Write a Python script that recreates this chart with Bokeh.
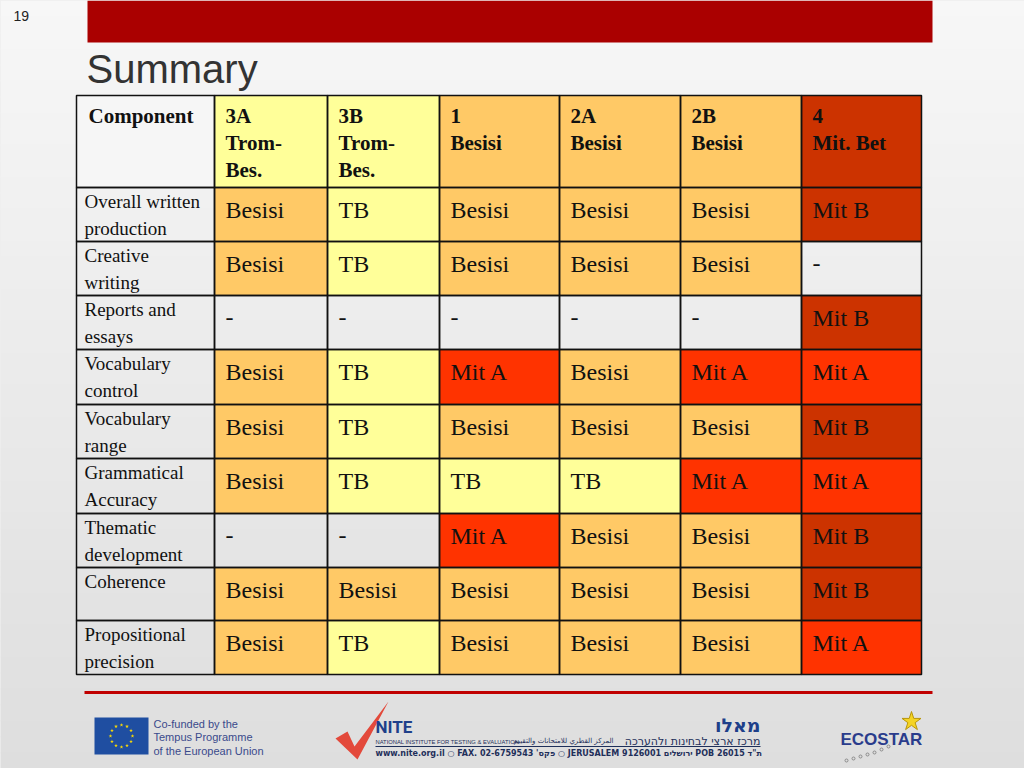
from bokeh.plotting import figure
from bokeh.models import Range1d
from bokeh.core.properties import value
from bokeh.embed import file_html
from bokeh.resources import INLINE
import math

# ---------------- data ----------------
slide_number = "19"
title = "Summary"
header_label = "Component"
columns = [["3A", "Trom-", "Bes."], ["3B", "Trom-", "Bes."], ["1", "Besisi"],
           ["2A", "Besisi"], ["2B", "Besisi"], ["4", "Mit. Bet"]]
column_level = ["TB", "TB", "Besisi", "Besisi", "Besisi", "Mit B"]
components = [["Overall written", "production"], ["Creative", "writing"],
              ["Reports and", "essays"], ["Vocabulary", "control"],
              ["Vocabulary", "range"], ["Grammatical", "Accuracy"],
              ["Thematic", "development"], ["Coherence"],
              ["Propositional", "precision"]]
results = [
    ["Besisi", "TB", "Besisi", "Besisi", "Besisi", "Mit B"],
    ["Besisi", "TB", "Besisi", "Besisi", "Besisi", "-"],
    ["-", "-", "-", "-", "-", "Mit B"],
    ["Besisi", "TB", "Mit A", "Besisi", "Mit A", "Mit A"],
    ["Besisi", "TB", "Besisi", "Besisi", "Besisi", "Mit B"],
    ["Besisi", "TB", "TB", "TB", "Mit A", "Mit A"],
    ["-", "-", "Mit A", "Besisi", "Besisi", "Mit B"],
    ["Besisi", "Besisi", "Besisi", "Besisi", "Besisi", "Mit B"],
    ["Besisi", "TB", "Besisi", "Besisi", "Besisi", "Mit A"],
]

# ---------------- styles / layout ----------------
palette = {"Besisi": "#ffc966", "TB": "#ffff99", "Mit A": "#ff3300",
           "Mit B": "#cc3300", "-": None}
col_edges = [76, 214, 327, 439, 559, 680, 801, 921]
row_edges = [95, 187, 241, 295, 349, 404, 458, 513, 567, 620, 674]
SERIF = value("Liberation Serif")
SANS = value("Liberation Sans")

p = figure(width=1024, height=768, output_backend="svg", toolbar_location=None,
           x_range=Range1d(0, 1024), y_range=Range1d(768, 0), min_border=0,
           x_axis_location=None, y_axis_location=None, outline_line_color=None,
           background_fill_color="#eeeeee", border_fill_color="#eeeeee")
p.grid.visible = False

# background gradient
n = 48
for i in range(n):
    t = i / (n - 1)
    c = int(round(247 - t * (247 - 222)))
    col = "#%02x%02x%02x" % (c, c, c)
    p.quad(left=0, right=1024, top=i * 768 / n, bottom=(i + 1) * 768 / n + 1,
           fill_color=col, line_color=None)

# top bar + slide number + title
p.quad(left=87, right=932, top=0, bottom=42, fill_color="#aa0000", line_color=None)
p.text(x=[13], y=[15], text=[slide_number], text_font=SANS, text_font_size="14px",
       text_color="#222222", text_baseline="middle")
p.text(x=[86], y=[68], text=[title], text_font=SANS, text_font_size="40px",
       text_color="#333333", text_baseline="middle")

# ---------------- table ----------------
L, R, T, B, F = [], [], [], [], []
L.append(col_edges[0]); R.append(col_edges[1]); T.append(row_edges[0]); B.append(row_edges[1]); F.append("#f6f6f6")
for j in range(len(columns)):
    L.append(col_edges[j + 1]); R.append(col_edges[j + 2])
    T.append(row_edges[0]); B.append(row_edges[1]); F.append(palette[column_level[j]])
for i, row in enumerate(results):
    L.append(col_edges[0]); R.append(col_edges[1]); T.append(row_edges[i + 1]); B.append(row_edges[i + 2]); F.append(None)
    for j, v in enumerate(row):
        L.append(col_edges[j + 1]); R.append(col_edges[j + 2])
        T.append(row_edges[i + 1]); B.append(row_edges[i + 2]); F.append(palette[v])

filled = [k for k in range(len(F)) if F[k] is not None]
p.quad(left=[L[k] for k in filled], right=[R[k] for k in filled],
       top=[T[k] for k in filled], bottom=[B[k] for k in filled],
       fill_color=[F[k] for k in filled], line_color=None)
p.quad(left=L, right=R, top=T, bottom=B, fill_color=None,
       line_color="#111111", line_width=1.5)

# header text
hx, hy, ht = [col_edges[0] + 12], [row_edges[0] + 20], [header_label]
for j, lines in enumerate(columns):
    for k, s in enumerate(lines):
        hx.append(col_edges[j + 1] + 11); hy.append(row_edges[0] + 20 + 27 * k); ht.append(s)
p.text(x=hx, y=hy, text=ht, text_font=SERIF, text_font_style="bold",
       text_font_size="21px", text_color="#111111", text_baseline="middle")

# component labels
lx, ly, lt = [], [], []
for i, lines in enumerate(components):
    for k, s in enumerate(lines):
        lx.append(col_edges[0] + 8); ly.append(row_edges[i + 1] + 14 + 27 * k); lt.append(s)
p.text(x=lx, y=ly, text=lt, text_font=SERIF, text_font_size="19px",
       text_color="#111111", text_baseline="middle")

# values
vx, vy, vt = [], [], []
for i, row in enumerate(results):
    for j, v in enumerate(row):
        vx.append(col_edges[j + 1] + 11); vy.append(row_edges[i + 1] + 22); vt.append(v)
p.text(x=vx, y=vy, text=vt, text_font=SERIF, text_font_size="24px",
       text_color="#111111", text_baseline="middle")

# ---------------- footer ----------------
p.quad(left=84, right=932, top=690.5, bottom=693.5, fill_color="#c00000", line_color=None)

# EU flag
p.quad(left=94, right=148, top=717, bottom=754, fill_color="#1f4ea1", line_color=None)
sx = [121 + 11 * math.cos(2 * math.pi * k / 12) for k in range(12)]
sy = [735.5 + 11 * math.sin(2 * math.pi * k / 12) for k in range(12)]
p.scatter(x=sx, y=sy, marker="star", size=4, fill_color="#ffdd00", line_color=None)
p.text(x=[153, 153, 153], y=[723, 736.5, 750],
       text=["Co-funded by the", "Tempus Programme", "of the European Union"],
       text_font=SANS, text_font_size="11px", text_color="#3a4a8c", text_baseline="middle")

# NITE
p.patch(x=[335, 347, 354, 388, 357], y=[738, 731, 746, 701, 759],
        fill_color="#e3493b", line_color=None)
p.text(x=[375], y=[726], text=["NITE"], text_font=value("Roboto"), text_font_style="bold",
       text_font_size="17px", text_color="#1e3f8a", text_baseline="middle")
p.text(x=[375], y=[741], text=["NATIONAL INSTITUTE FOR TESTING & EVALUATION"],
       text_font=SANS, text_font_size="5.8px", text_color="#1e2f5a", text_baseline="middle")
p.text(x=[613], y=[740], text=["المركز القطري للامتحانات والتقييم"], text_align="right",
       text_font=value("DejaVu Sans"), text_font_size="7px", text_color="#1e2f5a",
       text_baseline="middle")
p.text(x=[760], y=[741], text=["מרכז ארצי לבחינות ולהערכה"], text_align="right",
       text_font=value("DejaVu Sans"), text_font_size="11px", text_color="#1e2f5a",
       text_baseline="middle")
p.quad(left=375, right=760, top=745.5, bottom=746.5, fill_color="#1e2f5a", line_color=None)
p.text(x=[375], y=[753], text=["www.nite.org.il  ○  FAX. 02-6759543 'פקס  ○  JERUSALEM 9126001 ירושלים  POB 26015 ת\"ד"],
       text_font=value("DejaVu Sans"), text_font_style="bold", text_font_size="8px",
       text_color="#1e2f5a", text_baseline="middle")
p.text(x=[760], y=[724], text=["מאלו"], text_align="right", text_font=value("DejaVu Sans"),
       text_font_style="bold", text_font_size="19px", text_color="#1e3f8a",
       text_baseline="middle")

# ECOSTAR
p.text(x=[840], y=[739], text=["ECOSTAR"], text_font=SANS, text_font_style="bold",
       text_font_size="17px", text_color="#2a3c8c", text_baseline="middle")
p.scatter(x=[911], y=[721], marker="star", size=20, fill_color="#f5d423",
          line_color="#b8960a", line_width=1)
p.scatter(x=[846, 853, 860, 867, 874, 881, 888], y=[760, 758, 756, 754, 752, 749, 746],
          marker="circle", size=3, fill_color=None, line_color="#8a8a8a")

html = file_html(p, INLINE)
html = html.replace("<head>", "<head><style>body{background:#eeeeee;}</style>", 1)
open("out.html", "w").write(html)
